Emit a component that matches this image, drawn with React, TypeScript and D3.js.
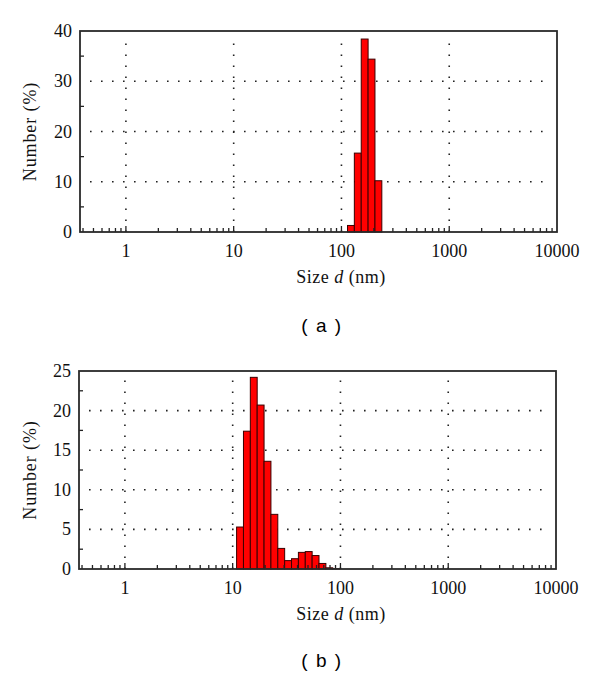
import React, { useEffect, useRef } from "react";
import * as d3 from "d3";

// size bins (nm), edges
const binEdgesA = [113.8, 131.7, 152.6, 176.7, 204.6, 236.9];
const numberA = [1.3, 15.7, 38.4, 34.4, 10.2];

const binEdgesB = [10.87, 12.59, 14.58, 16.88, 19.55, 22.64, 26.22, 30.36, 35.16, 40.72, 47.16, 54.61, 63.24, 73.24, 84.82, 98.2];
const numberB = [5.3, 17.4, 24.2, 20.7, 13.6, 6.9, 2.6, 1.06, 1.3, 2.1, 2.2, 1.7, 0.7, 0.15, 0.05];

const xTicks = [1, 10, 100, 1000, 10000];
const yTicksA = [0, 10, 20, 30, 40];
const yTicksB = [0, 5, 10, 15, 20, 25];

const serif = "'Liberation Serif', 'Times New Roman', serif";

function drawPanel(svg, cfg) {
  const { left, right, top, bottom, edges, values, yMax, yTicks, yMinorStep, label, labelY } = cfg;

  const x = d3.scaleLog().domain([0.375, 10000]).range([left, right]);
  const y = d3.scaleLinear().domain([0, yMax]).range([bottom, top]);

  const g = svg.append("g");

  // dotted grid
  xTicks.slice(0, 4).forEach(t => {
    g.append("line")
      .attr("x1", x(t)).attr("x2", x(t))
      .attr("y1", bottom).attr("y2", top + 6)
      .style("stroke", "#222").style("stroke-width", 1.6)
      .style("stroke-dasharray", "1.6 9.4");
  });
  yTicks.slice(1, -1).forEach(t => {
    g.append("line")
      .attr("x1", left + 10).attr("x2", right - 6)
      .attr("y1", y(t)).attr("y2", y(t))
      .style("stroke", "#222").style("stroke-width", 1.6)
      .style("stroke-dasharray", "1.6 9.4");
  });

  // bars
  const bars = values.map((v, i) => ({ x0: edges[i], x1: edges[i + 1], v }));
  g.selectAll("rect.bar")
    .data(bars)
    .enter()
    .append("rect")
    .attr("x", d => x(d.x0))
    .attr("width", d => x(d.x1) - x(d.x0))
    .attr("y", d => y(d.v))
    .attr("height", d => y(0) - y(d.v))
    .style("fill", "#ff0000")
    .style("stroke", "#3a0000")
    .style("stroke-width", 1);

  // minor x ticks (inside, pointing up)
  const minorX = [];
  for (let dec = 0.1; dec < 10000; dec *= 10) {
    for (let k = 1; k <= 9; k++) {
      const v = dec * k;
      if (v >= 0.375 && v <= 10000) minorX.push(v);
    }
  }
  minorX.forEach(v => {
    const major = xTicks.some(t => Math.abs(t - v) < 1e-6);
    g.append("line")
      .attr("x1", x(v)).attr("x2", x(v))
      .attr("y1", bottom).attr("y2", bottom - (major ? 6 : 4))
      .style("stroke", "#222").style("stroke-width", 1.3);
  });

  // minor y ticks (inside)
  for (let v = yMinorStep; v < yMax; v += yMinorStep * 2) {
    g.append("line")
      .attr("x1", left).attr("x2", left + 4)
      .attr("y1", y(v)).attr("y2", y(v))
      .style("stroke", "#222").style("stroke-width", 1.3);
  }

  // frame
  g.append("rect")
    .attr("x", left).attr("y", top)
    .attr("width", right - left).attr("height", bottom - top)
    .style("fill", "none")
    .style("stroke", "#2a2a2a")
    .style("stroke-width", 1.8);

  // tick labels
  g.selectAll("text.xt")
    .data(xTicks)
    .enter()
    .append("text")
    .attr("x", d => x(d))
    .attr("y", bottom + 25)
    .attr("text-anchor", "middle")
    .style("font-family", serif)
    .style("font-size", "18px")
    .style("fill", "#111")
    .text(d => d);

  g.selectAll("text.yt")
    .data(yTicks)
    .enter()
    .append("text")
    .attr("x", left - 8)
    .attr("y", d => y(d) + 6)
    .attr("text-anchor", "end")
    .style("font-family", serif)
    .style("font-size", "18px")
    .style("fill", "#111")
    .text(d => d);

  // axis titles
  g.append("text")
    .attr("transform", `translate(36,${(top + bottom) / 2}) rotate(-90)`)
    .attr("text-anchor", "middle")
    .style("font-family", serif)
    .style("font-size", "18px")
    .style("letter-spacing", "0.9px")
    .style("fill", "#111")
    .text("Number (%)");

  const xt = g.append("text")
    .attr("x", 341)
    .attr("y", bottom + 51)
    .attr("text-anchor", "middle")
    .style("font-family", serif)
    .style("font-size", "18px")
    .style("letter-spacing", "0.5px")
    .style("fill", "#111");
  xt.append("tspan").text("Size ");
  xt.append("tspan").style("font-style", "italic").text("d");
  xt.append("tspan").text(" (nm)");

  g.append("text")
    .attr("x", 322)
    .attr("y", labelY)
    .attr("text-anchor", "middle")
    .style("font-family", "'Liberation Sans', Arial, sans-serif")
    .style("font-size", "19px")
    .style("letter-spacing", "1.5px")
    .style("fill", "#000")
    .text(label);
}

export default function App() {
  const ref = useRef(null);

  useEffect(() => {
    const svg = d3.select(ref.current);
    svg.selectAll("*").remove();
    drawPanel(svg, {
      left: 80, right: 557, top: 31, bottom: 232,
      edges: binEdgesA, values: numberA,
      yMax: 40, yTicks: yTicksA, yMinorStep: 5,
      label: "( a )", labelY: 332
    });
    drawPanel(svg, {
      left: 79, right: 556, top: 371, bottom: 569,
      edges: binEdgesB, values: numberB,
      yMax: 25, yTicks: yTicksB, yMinorStep: 2.5,
      label: "( b )", labelY: 667
    });
  }, []);

  return (
    <svg
      ref={ref}
      width={600}
      height={676}
      style={{ position: "absolute", left: 0, top: 0, background: "#fff" }}
    />
  );
}
